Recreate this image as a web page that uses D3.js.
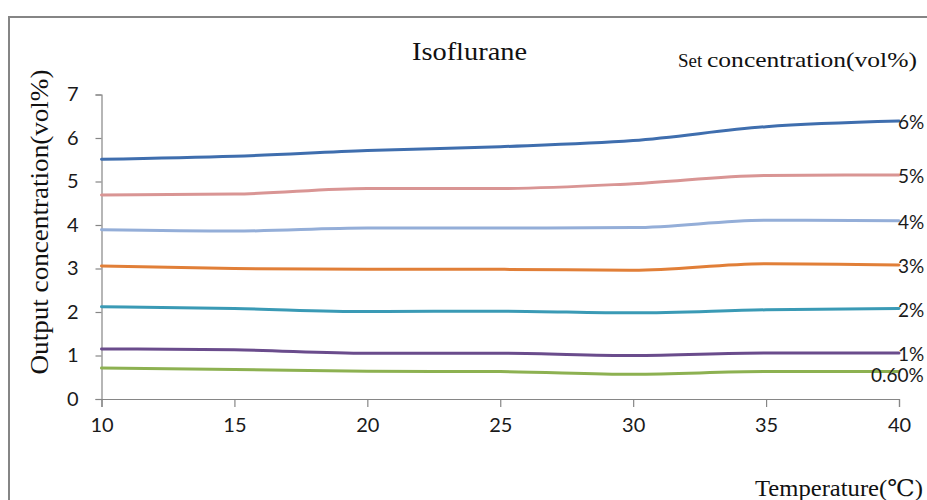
<!DOCTYPE html>
<html>
<head>
<meta charset="utf-8">
<script src="https://cdn.jsdelivr.net/npm/d3@7"></script>
<style>
  html, body { margin: 0; padding: 0; background: #fff; }
  svg { display: block; }
</style>
</head>
<body>
<svg id="chart" width="927" height="500"></svg>
<script>
// Temperatures (°C) at which output was measured
const temperatures = [10, 15, 20, 25, 30, 35, 40];

// Output concentration (vol%) for each set concentration
const series6 = [5.51, 5.58, 5.71, 5.80, 5.94, 6.26, 6.39];
const series5 = [4.69, 4.71, 4.84, 4.84, 4.95, 5.14, 5.15];
const series4 = [3.89, 3.86, 3.93, 3.93, 3.94, 4.11, 4.10];
const series3 = [3.06, 3.00, 2.98, 2.98, 2.96, 3.11, 3.08];
const series2 = [2.12, 2.08, 2.01, 2.02, 1.98, 2.05, 2.08];
const series1 = [1.15, 1.13, 1.05, 1.05, 1.00, 1.06, 1.06];
const series06 = [0.71, 0.68, 0.64, 0.63, 0.57, 0.63, 0.63];

const seriesLabels = ["6%", "5%", "4%", "3%", "2%", "1%", "0.60%"];
const seriesColors = ["#3f6eae", "#d99594", "#94aed8", "#e17f38", "#3a9ab5", "#6a4c8c", "#8db151"];
const seriesValues = [series6, series5, series4, series3, series2, series1, series06];

const xTicks = [10, 15, 20, 25, 30, 35, 40];
const yTicks = [0, 1, 2, 3, 4, 5, 6, 7];

const svg = d3.select("#chart");
const sansFont = "Lato, 'Open Sans', sans-serif";
const serifFont = "'Liberation Serif', 'DejaVu Serif', serif";

// Outer frame (only top and left edges visible)
svg.append("path")
  .attr("d", "M9,500 V17 H927")
  .attr("fill", "none")
  .attr("stroke", "#858585")
  .attr("stroke-width", 2);

const x = d3.scaleLinear().domain([10, 40]).range([101.5, 899]);
const y = d3.scaleLinear().domain([0, 7]).range([399, 94.5]);

// Axes
const xAxis = svg.append("g")
  .attr("transform", `translate(0,${y(0)})`)
  .call(d3.axisBottom(x).tickValues(xTicks).tickSize(8).tickPadding(11).tickFormat(d3.format("d")));
const yAxis = svg.append("g")
  .attr("transform", `translate(${x(10)},0)`)
  .call(d3.axisLeft(y).tickValues(yTicks).tickSize(6).tickPadding(17).tickFormat(d3.format("d")));

[xAxis, yAxis].forEach(g => {
  g.select(".domain").attr("stroke", "#868686").attr("stroke-width", 1.2);
  g.selectAll(".tick line").attr("stroke", "#868686").attr("stroke-width", 1.2);
  g.selectAll(".tick text")
    .attr("fill", "#1a1a1a")
    .style("font-family", sansFont)
    .style("font-size", "20px");
});

// Series lines
const line = d3.line()
  .x((d, i) => x(temperatures[i]))
  .y(d => y(d))
  .curve(d3.curveMonotoneX);

seriesValues.forEach((vals, k) => {
  svg.append("path")
    .datum(vals)
    .attr("d", line)
    .attr("fill", "none")
    .attr("stroke", seriesColors[k])
    .attr("stroke-width", 3)
    .attr("stroke-linecap", "round");
});

// End-of-line labels for the set concentrations
seriesValues.forEach((vals, k) => {
  const last = vals[vals.length - 1];
  const isSmall = seriesLabels[k] === "0.60%";
  svg.append("text")
    .attr("x", isSmall ? 871 : x(40) - 1)
    .attr("y", y(last) + (isSmall ? 10 : 8))
    .attr("fill", "#1a1a1a")
    .style("font-family", sansFont)
    .style("font-size", "19px")
    .text(seriesLabels[k]);
});

// Title
svg.append("text")
  .attr("x", 412)
  .attr("y", 60)
  .attr("textLength", 115)
  .attr("lengthAdjust", "spacingAndGlyphs")
  .style("font-family", serifFont)
  .style("font-size", "26px")
  .attr("fill", "#111")
  .text("Isoflurane");

// Legend caption
const cap = svg.append("text")
  .attr("x", 678)
  .attr("y", 67)
  .style("font-family", serifFont)
  .attr("fill", "#111");
cap.append("tspan").style("font-size", "18px")
  .attr("textLength", 29).attr("lengthAdjust", "spacingAndGlyphs")
  .text("Set ");
cap.append("tspan").style("font-size", "22px")
  .attr("textLength", 210).attr("lengthAdjust", "spacingAndGlyphs")
  .text("concentration(vol%)");

// Axis titles
svg.append("text")
  .attr("transform", "translate(48,222) rotate(-90)")
  .attr("text-anchor", "middle")
  .attr("textLength", 305)
  .attr("lengthAdjust", "spacingAndGlyphs")
  .style("font-family", serifFont)
  .style("font-size", "25px")
  .attr("fill", "#111")
  .text("Output concentration(vol%)");

svg.append("text")
  .attr("x", 755)
  .attr("y", 496)
  .attr("textLength", 168)
  .attr("lengthAdjust", "spacingAndGlyphs")
  .style("font-family", serifFont)
  .style("font-size", "23px")
  .attr("fill", "#111")
  .text("Temperature(℃)");
</script>
</body>
</html>
